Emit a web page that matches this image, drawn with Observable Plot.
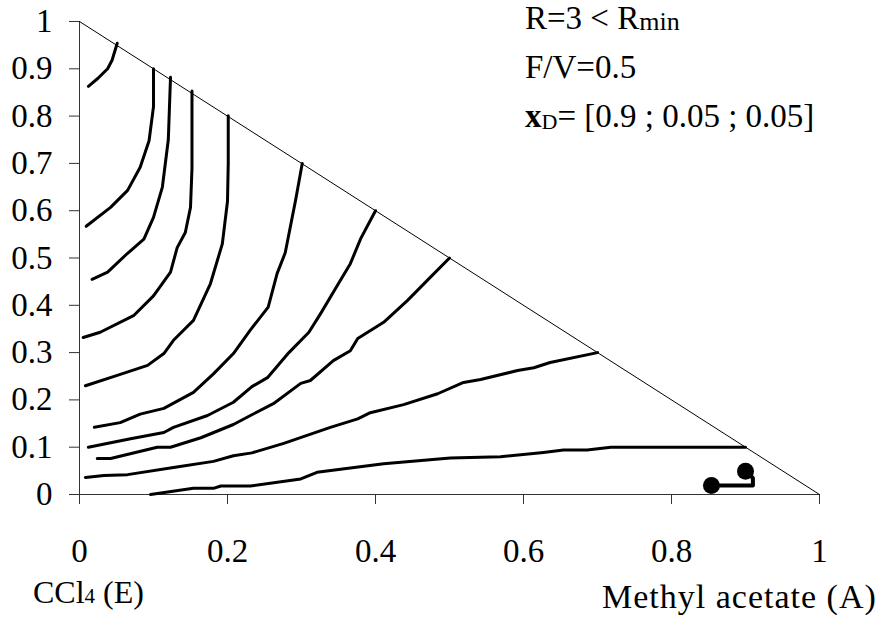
<!DOCTYPE html>
<html>
<head>
<meta charset="utf-8">
<script src="https://cdn.jsdelivr.net/npm/d3@7"></script>
<script src="https://cdn.jsdelivr.net/npm/@observablehq/plot@0.6"></script>
<style>
  html, body { margin: 0; padding: 0; background: #fff; }
  #wrap { position: relative; width: 890px; height: 619px; font-family: "Liberation Serif", "Times New Roman", serif; color: #000; }
  #wrap svg text { font-family: "Liberation Serif", serif !important; font-size: 33px !important; fill: #000; }
  .ann { position: absolute; font-size: 33px; line-height: 1; white-space: nowrap; }
  .sub { font-size: 26px; position: relative; top: 1px; }
</style>
</head>
<body>
<div id="wrap"></div>
<script>
// Tick values
const xTicks = [0, 0.2, 0.4, 0.6, 0.8, 1];
const yTicks = [0, 0.1, 0.2, 0.3, 0.4, 0.5, 0.6, 0.7, 0.8, 0.9, 1];

// Triangle hypotenuse (x_A + x_B = 1)
const edgeX = [0, 1];
const edgeY = [1, 0];

// Profiles (x = methyl acetate, y = second component)
const c1 = [[0.012,0.863],[0.025,0.88],[0.038,0.90],[0.044,0.918],[0.051,0.954]];
const c2 = [[0.009,0.567],[0.042,0.607],[0.065,0.643],[0.082,0.692],[0.094,0.748],[0.1,0.82],[0.1,0.9]];
const c3 = [[0.017,0.455],[0.038,0.47],[0.065,0.51],[0.087,0.54],[0.1,0.586],[0.112,0.65],[0.12,0.75],[0.123,0.882]];
const c4 = [[0.005,0.332],[0.028,0.343],[0.073,0.378],[0.1,0.42],[0.123,0.47],[0.132,0.522],[0.143,0.554],[0.15,0.607],[0.152,0.69],[0.152,0.853]];
const c5 = [[0.008,0.23],[0.051,0.252],[0.092,0.273],[0.114,0.298],[0.127,0.326],[0.154,0.368],[0.177,0.446],[0.193,0.53],[0.2,0.62],[0.201,0.7],[0.201,0.801]];
const c6 = [[0.02,0.142],[0.055,0.152],[0.082,0.17],[0.114,0.182],[0.154,0.216],[0.181,0.255],[0.208,0.298],[0.231,0.348],[0.255,0.396],[0.267,0.467],[0.278,0.511],[0.292,0.622],[0.301,0.70]];
const c7 = [[0.012,0.1],[0.069,0.118],[0.114,0.131],[0.127,0.142],[0.173,0.167],[0.208,0.195],[0.233,0.228],[0.254,0.247],[0.283,0.3],[0.31,0.343],[0.326,0.383],[0.35,0.446],[0.366,0.488],[0.38,0.541],[0.4,0.6]];
const c8 = [[0.024,0.076],[0.042,0.076],[0.105,0.1],[0.123,0.1],[0.164,0.12],[0.208,0.148],[0.231,0.167],[0.262,0.192],[0.299,0.235],[0.312,0.241],[0.343,0.283],[0.366,0.304],[0.376,0.33],[0.411,0.364],[0.443,0.41],[0.474,0.459],[0.5,0.5]];
const c9 = [[0.008,0.036],[0.033,0.04],[0.065,0.042],[0.127,0.057],[0.181,0.07],[0.208,0.082],[0.233,0.088],[0.276,0.108],[0.339,0.142],[0.376,0.16],[0.393,0.173],[0.438,0.19],[0.484,0.213],[0.519,0.237],[0.542,0.243],[0.592,0.262],[0.614,0.268],[0.636,0.279],[0.7,0.3]];
const c10 = [[0.096,0],[0.154,0.013],[0.181,0.013],[0.191,0.018],[0.231,0.018],[0.299,0.033],[0.321,0.047],[0.411,0.065],[0.501,0.077],[0.569,0.08],[0.627,0.089],[0.654,0.094],[0.686,0.094],[0.718,0.1],[0.9,0.1]];
const profiles = [c1, c2, c3, c4, c5, c6, c7, c8, c9, c10];

// Short trajectory with end points
const traj = [[0.9,0.049],[0.91,0.035],[0.91,0.019],[0.854,0.019]];
const trajEnds = [[0.9,0.049],[0.854,0.019]];

const lineData = profiles.flatMap((c, i) => c.map(([x, y]) => ({x, y, id: i})));
const edge = edgeX.map((x, i) => ({x, y: edgeY[i]}));

const font = {fontFamily: "Liberation Serif", fontSize: 33};

const plot = Plot.plot({
  width: 890,
  height: 619,
  marginLeft: 79,
  marginRight: 71,
  marginTop: 21,
  marginBottom: 125,
  x: {domain: [0, 1]},
  y: {domain: [0, 1]},
  style: {fontFamily: "Liberation Serif", fontSize: "33px", color: "#000", background: "#fff"},
  marks: [
    Plot.axisY({ticks: yTicks, tickSize: 10, tickPadding: 17, tickFormat: d => String(d), label: null, stroke: "#333", fill: "#000", ...font}),
    Plot.axisX({ticks: xTicks, tickSize: 10, tickPadding: 34, tickFormat: d => String(d), label: null, stroke: "#333", fill: "#000", ...font}),
    Plot.ruleX([0], {y1: 0, y2: 1, stroke: "#333", strokeWidth: 1}),
    Plot.ruleY([0], {x1: 0, x2: 1, stroke: "#333", strokeWidth: 1}),
    Plot.line(edge, {x: "x", y: "y", stroke: "#000", strokeWidth: 1}),
    Plot.line(lineData, {x: "x", y: "y", z: "id", stroke: "#000", strokeWidth: 3}),
    Plot.line(traj, {x: d => d[0], y: d => d[1], stroke: "#000", strokeWidth: 4}),
    Plot.dot(trajEnds, {x: d => d[0], y: d => d[1], r: 8.5, fill: "#000"})
  ]
});

const wrap = document.getElementById("wrap");
wrap.appendChild(plot);

const anns = [
  {html: 'R=3 &lt; R<span class="sub">min</span>', left: 525, top: 2},
  {html: 'F/V=0.5', left: 525, top: 51},
  {html: '<b>x</b><span class="sub" style="font-size:22px;top:2px">D</span>= [0.9 ; 0.05 ; 0.05]', left: 525, top: 100},
  {html: 'CCl<span class="sub" style="font-size:21px;top:0px">4</span> (E)', left: 33, top: 576, size: 32},
  {html: 'Methyl acetate (A)', left: 602, top: 580, size: 34, ls: 1}
];
for (const a of anns) {
  const d = document.createElement("div");
  d.className = "ann";
  d.style.left = a.left + "px";
  d.style.top = a.top + "px";
  if (a.size) d.style.fontSize = a.size + "px";
  if (a.ls) d.style.letterSpacing = a.ls + "px";
  d.innerHTML = a.html;
  wrap.appendChild(d);
}
</script>
</body>
</html>
